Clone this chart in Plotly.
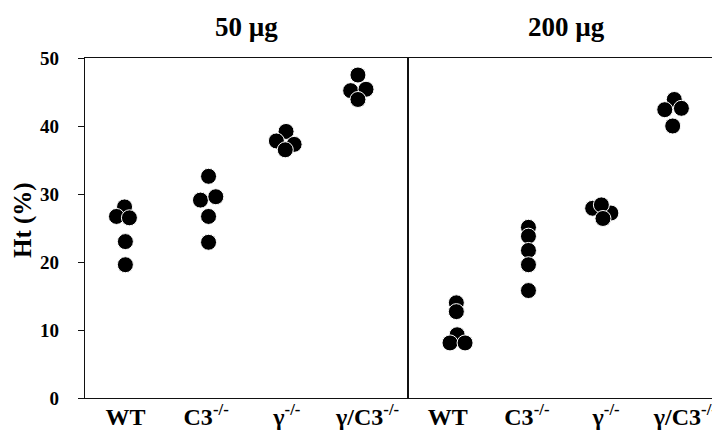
import plotly.graph_objects as go
from plotly.subplots import make_subplots

# ---- data ----
groups = ["WT", "C3<sup>-/-</sup>", "γ<sup>-/-</sup>", "γ/C3<sup>-/-</sup>"]
doses = ["50 µg", "200 µg"]

# Ht (%) values per group, 50 µg panel
wt_50 = [28.1, 26.7, 26.5, 23.0, 19.6]
c3_50 = [32.6, 29.1, 29.6, 26.7, 22.9]
gamma_50 = [39.2, 37.8, 37.3, 36.5]
gc3_50 = [47.5, 45.2, 45.4, 43.9]

# Ht (%) values per group, 200 µg panel
wt_200 = [14.0, 12.7, 9.3, 8.1, 8.1]
c3_200 = [25.1, 23.8, 21.7, 19.6, 15.8]
gamma_200 = [27.9, 27.2, 28.4, 26.4]
gc3_200 = [43.9, 42.4, 42.6, 40.0]

# horizontal jitter of overlapping dots (in category units)
wt_50_dx = [-0.01, -0.11, 0.05, 0.0, 0.0]
c3_50_dx = [0.03, -0.07, 0.12, 0.03, 0.03]
gamma_50_dx = [-0.01, -0.13, 0.09, -0.02]
gc3_50_dx = [-0.12, -0.21, -0.02, -0.12]
wt_200_dx = [0.11, 0.11, 0.12, 0.03, 0.22]
c3_200_dx = [0.02, 0.02, 0.02, 0.02, 0.02]
gamma_200_dx = [-0.17, 0.06, -0.06, -0.04]
gc3_200_dx = [-0.14, -0.26, -0.05, -0.16]

y_ticks = [0, 10, 20, 30, 40, 50]

panels = [
    [(wt_50, wt_50_dx), (c3_50, c3_50_dx), (gamma_50, gamma_50_dx), (gc3_50, gc3_50_dx)],
    [(wt_200, wt_200_dx), (c3_200, c3_200_dx), (gamma_200, gamma_200_dx), (gc3_200, gc3_200_dx)],
]

FONT = "Liberation Serif, Times New Roman, serif"

fig = make_subplots(rows=1, cols=2, shared_yaxes=True, horizontal_spacing=0)

for p, panel in enumerate(panels):
    for gi, (vals, dx) in enumerate(panel):
        fig.add_trace(
            go.Scatter(
                x=[gi + d for d in dx],
                y=vals,
                mode="markers",
                marker=dict(size=16, color="black", line=dict(color="white", width=1)),
                showlegend=False,
                hoverinfo="y",
            ),
            row=1, col=p + 1,
        )

split = (400 - 77) / 640
fig.update_layout(
    width=720, height=433,
    margin=dict(l=77, r=3, t=50, b=43),
    plot_bgcolor="white", paper_bgcolor="white",
    font=dict(family=FONT, color="black"),
)

for i, (xa, dom) in enumerate([("xaxis", [0, split]), ("xaxis2", [split, 1])]):
    fig.layout[xa].update(
        domain=dom, range=[-0.5, 3.5],
        tickmode="array", tickvals=[0, 1, 2, 3],
        ticktext=["<b>" + g + "</b>" for g in groups],
        tickfont=dict(family=FONT, size=24, color="black"),
        ticklabelstandoff=-3,
        showline=True, linecolor="#111", linewidth=1.3, mirror=True,
        showgrid=False, zeroline=False, ticks="",
    )

fig.layout.yaxis.update(
    range=[0, 50], tickmode="array", tickvals=y_ticks,
    ticktext=["<b>%d</b>" % v for v in y_ticks],
    tickfont=dict(family=FONT, size=19, color="black"),
    ticks="outside", ticklen=6, tickcolor="#111", ticklabelstandoff=15,
    showline=True, linecolor="#111", linewidth=1.3, mirror=True,
    showgrid=False, zeroline=False,
)
fig.layout.yaxis2.update(
    range=[0, 50], showticklabels=False, ticks="",
    showline=True, linecolor="#111", linewidth=1.3, mirror=True,
    showgrid=False, zeroline=False,
)

# panel titles
for p, d in enumerate(doses):
    cx = split / 2 if p == 0 else (split + 1) / 2
    fig.add_annotation(
        x=cx, y=(390 - 19) / 340, xref="paper", yref="paper",
        text="<b>" + d + "</b>", showarrow=False,
        font=dict(family=FONT, size=27, color="black"),
        xanchor="center", yanchor="middle",
    )

# y-axis title
fig.add_annotation(
    x=(15 - 77) / 640, y=(390 - 212) / 340, xref="paper", yref="paper",
    text="<b>Ht (%)</b>", textangle=-90, showarrow=False,
    font=dict(family=FONT, size=25, color="black"),
    xanchor="center", yanchor="middle",
)

fig.write_html("out.html")
